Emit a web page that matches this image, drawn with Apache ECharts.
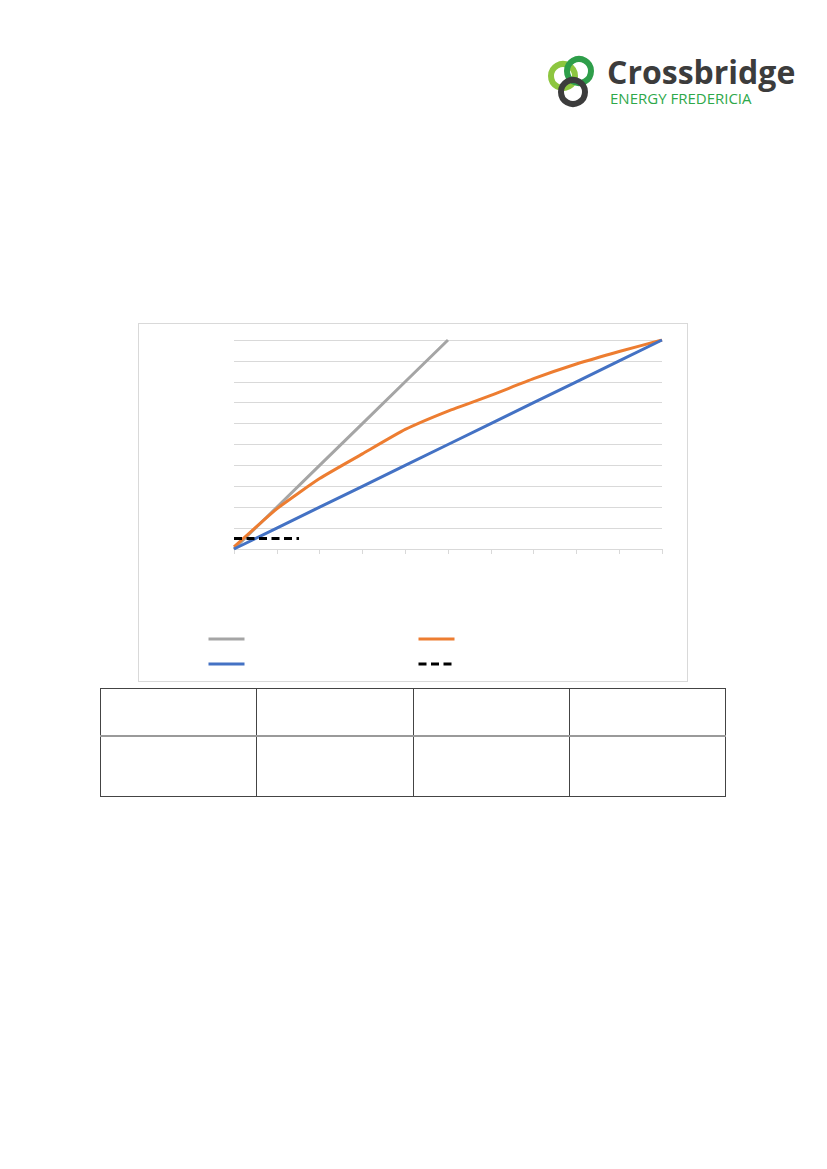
<!DOCTYPE html>
<html>
<head>
<meta charset="utf-8">
<script src="https://cdn.jsdelivr.net/npm/echarts@6/dist/echarts.min.js"></script>
<style>
  html, body { margin: 0; padding: 0; background: #fff; }
  body { width: 827px; height: 1169px; position: relative; overflow: hidden; font-family: "Open Sans", "Noto Sans", sans-serif; }
  #logo { position: absolute; left: 540px; top: 50px; width: 270px; height: 62px; }
  #chart { position: absolute; left: 138px; top: 323px; width: 550px; height: 359px; border: 1px solid #D9D9D9; box-sizing: border-box; }
  table { position: absolute; left: 100px; top: 688px; width: 626px; border-collapse: collapse; }
  td { border: 1px solid #444; padding: 0; }
  tr.r1 td { height: 46px; border-bottom: 2px solid #9a9a9a; }
  tr.r2 td { height: 59px; }
</style>
</head>
<body>
<div id="logo"></div>
<div id="chart"></div>
<table>
  <tr class="r1"><td></td><td></td><td></td><td></td></tr>
  <tr class="r2"><td></td><td></td><td></td><td></td></tr>
</table>
<script>
// ---- data ----
const xValues = [0, 1, 2, 3, 4, 5, 6, 7, 8, 9, 10];
const grayX = [0, 1, 2, 3, 4, 5];
const grayValues = [0, 2, 4, 6, 8, 10];
const orangeValues = [0.1, 1.92, 3.37, 4.55, 5.72, 6.6, 7.35, 8.15, 8.85, 9.45, 10];
const blueValues = [0, 1, 2, 3, 4, 5, 6, 7, 8, 9, 10];
const dashedX = [0, 1.52];
const dashedValues = [0.5, 0.5];
const seriesNames = ['grey', 'orange', 'blue', 'dashed'];

function zip(xs, ys) { return xs.map((x, i) => [x, ys[i]]); }

// ---- logo ----
const logo = echarts.init(document.getElementById('logo'), null, { renderer: 'svg' });
logo.setOption({
  animation: false,
  graphic: [
    { type: 'circle', shape: { cx: 23, cy: 26, r: 12 }, style: { fill: 'none', stroke: '#8DC63F', lineWidth: 6 } },
    { type: 'circle', shape: { cx: 39, cy: 21, r: 12 }, style: { fill: 'none', stroke: '#2E9E4A', lineWidth: 6 } },
    { type: 'circle', shape: { cx: 33, cy: 42, r: 12 }, style: { fill: 'none', stroke: '#3C3C3C', lineWidth: 6 } },
    { type: 'text', left: 67, top: 5, style: { text: 'Crossbridge', font: 'bold 32px "Open Sans", sans-serif', fill: '#3C3C3C' } },
    { type: 'text', left: 70, top: 40, style: { text: 'ENERGY FREDERICIA', font: '15px "Open Sans", sans-serif', fill: '#2EA84A' } }
  ]
});

// ---- chart ----
const chart = echarts.init(document.getElementById('chart'), null, { renderer: 'canvas' });
const grid = '#D9D9D9';
const legendBase = {
  itemWidth: 36, itemHeight: 10, formatter: () => '', selectedMode: false,
  itemStyle: { opacity: 0 }, lineStyle: { width: 3 }
};
chart.setOption({
  animation: false,
  grid: { left: 95, right: 25, top: 16, bottom: 132 },
  xAxis: {
    type: 'value', min: 0, max: 10, interval: 1,
    axisLine: { show: true, lineStyle: { color: grid, width: 1 } },
    axisTick: { show: true, length: 5, lineStyle: { color: grid } },
    axisLabel: { show: false },
    splitLine: { show: false }
  },
  yAxis: {
    type: 'value', min: 0, max: 10, interval: 1,
    axisLine: { show: false }, axisTick: { show: false },
    axisLabel: { show: false },
    splitLine: { show: true, lineStyle: { color: grid, width: 1 } }
  },
  legend: [
    Object.assign({}, legendBase, { data: [seriesNames[0]], left: 63, top: 305 }),
    Object.assign({}, legendBase, { data: [seriesNames[1]], left: 273, top: 305 }),
    Object.assign({}, legendBase, { data: [seriesNames[2]], left: 63, top: 330 }),
    Object.assign({}, legendBase, { data: [seriesNames[3]], left: 273, top: 330 })
  ],
  series: [
    { name: seriesNames[0], type: 'line', data: zip(grayX, grayValues), symbol: 'none', showSymbol: false,
      lineStyle: { color: '#A5A5A5', width: 3 }, itemStyle: { color: '#A5A5A5' }, z: 2 },
    { name: seriesNames[1], type: 'line', data: zip(xValues, orangeValues), symbol: 'none', showSymbol: false, smooth: 0.15,
      lineStyle: { color: '#ED7D31', width: 3 }, itemStyle: { color: '#ED7D31' }, z: 3 },
    { name: seriesNames[2], type: 'line', data: zip(xValues, blueValues), symbol: 'none', showSymbol: false,
      lineStyle: { color: '#4472C4', width: 3 }, itemStyle: { color: '#4472C4' }, z: 4 },
    { name: seriesNames[3], type: 'line', data: zip(dashedX, dashedValues), symbol: 'none', showSymbol: false,
      lineStyle: { color: '#000000', width: 3, type: [8, 4.5] }, itemStyle: { color: '#000000' }, z: 5 }
  ]
});
</script>
</body>
</html>
